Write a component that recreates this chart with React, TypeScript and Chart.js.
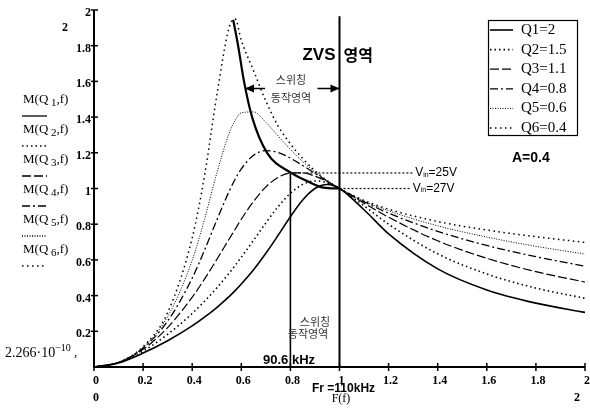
import React, { useEffect, useRef } from "react";
import { Chart, registerables } from "chart.js";

Chart.register(...registerables);

// normalized frequency f = F / Fr
const freq = [0, 0.1, 0.2, 0.3, 0.4, 0.45, 0.5, 0.55, 0.575, 0.6, 0.65, 0.7, 0.75, 0.8, 0.85, 0.9, 0.95, 1, 1.1, 1.2, 1.4, 1.6, 1.8, 2];

const gainQ1 = [0, 0.023, 0.078, 0.147, 0.23, 0.279, 0.333, 0.394, 0.428, 0.465, 0.545, 0.637, 0.738, 0.842, 0.936, 1.0, 1.022, 1, 0.881, 0.746, 0.55, 0.432, 0.358, 0.306];
const gainQ2 = [0, 0.024, 0.089, 0.183, 0.3, 0.368, 0.443, 0.525, 0.569, 0.615, 0.71, 0.807, 0.898, 0.973, 1.023, 1.042, 1.032, 1, 0.903, 0.8, 0.634, 0.521, 0.442, 0.385];
const gainQ3 = [0, 0.025, 0.099, 0.221, 0.391, 0.492, 0.602, 0.716, 0.772, 0.828, 0.928, 1.009, 1.062, 1.087, 1.088, 1.069, 1.038, 1, 0.918, 0.839, 0.707, 0.609, 0.534, 0.476];
const gainQ4 = [0, 0.025, 0.106, 0.257, 0.498, 0.654, 0.822, 0.983, 1.052, 1.11, 1.186, 1.212, 1.202, 1.17, 1.129, 1.085, 1.041, 1, 0.926, 0.862, 0.76, 0.681, 0.618, 0.565];
const gainQ5 = [0, 0.026, 0.11, 0.282, 0.598, 0.827, 1.085, 1.308, 1.382, 1.424, 1.429, 1.371, 1.294, 1.219, 1.151, 1.093, 1.043, 1, 0.93, 0.875, 0.791, 0.728, 0.676, 0.633];
const gainQ6 = [0, 0.026, 0.114, 0.305, 0.723, 1.07, 1.52, 1.9, 1.95, 1.83, 1.66, 1.49, 1.35, 1.25, 1.168, 1.099, 1.044, 1, 0.933, 0.884, 0.815, 0.767, 0.73, 0.698];

const seriesLabels = ["Q1=2", "Q2=1.5", "Q3=1.1", "Q4=0.8", "Q5=0.6", "Q6=0.4"];
const traceIndex = ["1", "2", "3", "4", "5", "6"];

// ZVS boundary (peak locus)
const boundaryF = [0.567, 0.587, 0.611, 0.644, 0.705, 0.8, 0.87, 0.934, 1.0];
const boundaryM = [1.945, 1.8, 1.6, 1.4, 1.2, 1.09, 1.04, 1.005, 1.0];

// reference lines
const resonantF = 1.0;
const resonantTop = 1.965;
const minF = 0.8;
const minTop = 1.09;
const vin25 = 1.087;
const vin27 = 1.0;
const vinLineStart = [0.8, 1.0];
const vinLineEnd = [1.3, 1.29];
const vinLabels = ["=25V", "=27V"];

const xTicks = [0, 0.2, 0.4, 0.6, 0.8, 1, 1.2, 1.4, 1.6, 1.8, 2];
const xTickLabels = ["0", "0.2", "0.4", "0.6", "0.8", "1", "1.2", "1.4", "1.6", "1.8", "2"];
const yTicks = [0.2, 0.4, 0.6, 0.8, 1, 1.2, 1.4, 1.6, 1.8, 2];
const yTickLabels = ["0.2", "0.4", "0.6", "0.8", "1", "1.2", "1.4", "1.6", "1.8", "2"];

const allGains = [gainQ1, gainQ2, gainQ3, gainQ4, gainQ5, gainQ6];
const styles = [
  { w: 1.6, dash: [] as number[] },
  { w: 1.6, dash: [1.5, 3] },
  { w: 1.2, dash: [9, 3] },
  { w: 1.3, dash: [8, 3, 2, 3] },
  { w: 1.0, dash: [1, 1.5] },
  { w: 1.5, dash: [1.5, 3.5] },
];

const SERIF = "'Liberation Serif', 'Times New Roman', serif";
const SANS = "'Liberation Sans', Arial, sans-serif";
const KR = "'Noto Sans CJK KR', sans-serif";

type Part = { t: string; font: string; dy?: number };
function drawParts(ctx: CanvasRenderingContext2D, parts: Part[], x: number, y: number) {
  let cx = x;
  for (const p of parts) {
    ctx.font = p.font;
    ctx.fillText(p.t, cx, y + (p.dy || 0));
    cx += ctx.measureText(p.t).width;
  }
}

const overlay = {
  id: "overlay",
  afterDraw(chart: any) {
    const ctx: CanvasRenderingContext2D = chart.ctx;
    const xs = chart.scales.x;
    const ys = chart.scales.y;
    const X = (v: number) => xs.getPixelForValue(v);
    const Y = (v: number) => ys.getPixelForValue(v);
    ctx.save();
    ctx.strokeStyle = "#000";
    ctx.fillStyle = "#000";
    ctx.setLineDash([]);

    // axes
    ctx.lineWidth = 2;
    ctx.beginPath();
    ctx.moveTo(X(0), Y(2));
    ctx.lineTo(X(0), Y(0));
    ctx.lineTo(X(2), Y(0));
    ctx.stroke();
    ctx.lineWidth = 1.5;
    yTicks.forEach((v) => {
      ctx.beginPath();
      ctx.moveTo(X(0) - 3, Y(v));
      ctx.lineTo(X(0) + 4, Y(v));
      ctx.stroke();
    });
    xTicks.forEach((v) => {
      ctx.beginPath();
      ctx.moveTo(X(v), Y(0) - 4);
      ctx.lineTo(X(v), Y(0) + 4);
      ctx.stroke();
    });

    // tick labels
    ctx.font = `bold 12px ${SERIF}`;
    ctx.textBaseline = "middle";
    ctx.textAlign = "right";
    yTicks.forEach((v, i) => ctx.fillText(yTickLabels[i], X(0) - 3, Y(v) + 3));
    ctx.textAlign = "center";
    xTicks.forEach((v, i) => ctx.fillText(xTickLabels[i], X(v) + 2, Y(0) + 14));
    ctx.fillText(xTickLabels[0], X(0) + 2, Y(0) + 31);
    ctx.fillText(xTickLabels[xTickLabels.length - 1], X(2) - 8, Y(0) + 31);
    ctx.fillText(yTickLabels[yTickLabels.length - 1], X(0) - 29, Y(2) + 18);

    // lower range label
    ctx.textAlign = "left";
    drawParts(ctx, [
      { t: "2.266·10", font: `14px ${SERIF}` },
      { t: "−10", font: `10px ${SERIF}`, dy: -5 },
      { t: " ,", font: `13px ${SERIF}` },
    ], 5, Y(0) - 14);

    // Mathcad trace names with line samples
    for (let i = 0; i < 6; i++) {
      const ly = 100 + i * 30;
      ctx.fillStyle = "#000";
      drawParts(ctx, [
        { t: "M(Q", font: `13px ${SERIF}` },
        { t: " " + traceIndex[i], font: `11px ${SERIF}`, dy: 3 },
        { t: ",f)", font: `13px ${SERIF}` },
      ], 23, ly);
      ctx.lineWidth = 1.3;
      ctx.setLineDash(styles[i].dash);
      ctx.beginPath();
      ctx.moveTo(22, ly + 16);
      ctx.lineTo(47, ly + 16);
      ctx.stroke();
      ctx.setLineDash([]);
    }

    // legend box
    ctx.lineWidth = 1.2;
    ctx.strokeRect(488.5, 20.5, 89, 115);
    ctx.textBaseline = "middle";
    ctx.textAlign = "left";
    ctx.font = `15px ${SERIF}`;
    for (let i = 0; i < 6; i++) {
      const ly = 30 + i * 19.6;
      ctx.lineWidth = styles[i].w;
      ctx.setLineDash(styles[i].dash);
      ctx.beginPath();
      ctx.moveTo(490, ly);
      ctx.lineTo(513, ly);
      ctx.stroke();
      ctx.setLineDash([]);
      ctx.fillText(seriesLabels[i], 521, ly);
    }

    // ZVS region label
    ctx.font = `bold 17px ${SANS}`;
    ctx.textAlign = "right";
    ctx.fillText("ZVS", X(resonantF) - 4, 55);
    ctx.textAlign = "left";
    ctx.font = `bold 16px ${KR}`;
    ctx.fillText("영역", X(resonantF) + 4, 55);

    // arrow between boundary and resonance
    const ay = Y(1.56);
    const ax0 = X(0.615);
    const ax1 = X(resonantF);
    ctx.lineWidth = 1.5;
    ctx.beginPath();
    ctx.moveTo(ax0, ay);
    ctx.lineTo(ax0 + 20, ay);
    ctx.moveTo(ax1 - 22, ay);
    ctx.lineTo(ax1, ay);
    ctx.stroke();
    ctx.beginPath();
    ctx.moveTo(ax0, ay);
    ctx.lineTo(ax0 + 9, ay - 4);
    ctx.lineTo(ax0 + 9, ay + 4);
    ctx.closePath();
    ctx.fill();
    ctx.beginPath();
    ctx.moveTo(ax1, ay);
    ctx.lineTo(ax1 - 9, ay - 4);
    ctx.lineTo(ax1 - 9, ay + 4);
    ctx.closePath();
    ctx.fill();

    ctx.fillStyle = "#333";
    ctx.font = `11px ${KR}`;
    ctx.textAlign = "center";
    ctx.fillText("스위칭", 291, ay - 9);
    ctx.fillText("동작영역", 291, ay + 9);
    ctx.fillText("스위칭", 315, 322);
    ctx.fillText("동작영역", 308, 334);

    ctx.fillStyle = "#000";
    ctx.font = `bold 13px ${SANS}`;
    ctx.textAlign = "left";
    ctx.fillText("90.6 kHz", 263, 360);
    ctx.font = `bold 12px ${SANS}`;
    ctx.fillText("Fr =110kHz", 312, 389);
    ctx.font = `12px ${SERIF}`;
    ctx.textAlign = "center";
    ctx.fillText("F(f)", 341, 399);

    // Vin labels
    ctx.textAlign = "left";
    [vin25, vin27].forEach((v, i) => {
      drawParts(ctx, [
        { t: "V", font: `12px ${SANS}` },
        { t: "in", font: `7px ${SANS}`, dy: 2 },
        { t: vinLabels[i], font: `12px ${SANS}` },
      ], X(vinLineEnd[i]) + 2, Y(v));
    });

    ctx.font = `bold 14px ${SANS}`;
    ctx.fillText("A=0.4", 512, 158);
    ctx.restore();
  },
};

export default function App() {
  const ref = useRef<HTMLCanvasElement | null>(null);
  useEffect(() => {
    if (!ref.current) return;
    const gainSets = allGains.map((g, i) => ({
      label: seriesLabels[i],
      data: freq.map((f, k) => ({ x: f, y: g[k] })),
      borderColor: "#000",
      borderWidth: styles[i].w,
      borderDash: styles[i].dash,
      pointRadius: 0,
      fill: false,
      cubicInterpolationMode: "monotone" as const,
    }));
    const extra = [
      {
        label: "boundary",
        data: boundaryF.map((f, k) => ({ x: f, y: boundaryM[k] })),
        borderColor: "#000",
        borderWidth: 2.2,
        borderDash: [] as number[],
        pointRadius: 0,
        fill: false,
        cubicInterpolationMode: "monotone" as const,
      },
      {
        label: "resonance",
        data: [{ x: resonantF, y: 0 }, { x: resonantF, y: resonantTop }],
        borderColor: "#000",
        borderWidth: 2,
        borderDash: [] as number[],
        pointRadius: 0,
        fill: false,
      },
      {
        label: "min",
        data: [{ x: minF, y: 0 }, { x: minF, y: minTop }],
        borderColor: "#000",
        borderWidth: 1.6,
        borderDash: [] as number[],
        pointRadius: 0,
        fill: false,
      },
      {
        label: "vin25",
        data: [{ x: vinLineStart[0], y: vin25 }, { x: vinLineEnd[0], y: vin25 }],
        borderColor: "#000",
        borderWidth: 1.2,
        borderDash: [2, 2],
        pointRadius: 0,
        fill: false,
      },
      {
        label: "vin27",
        data: [{ x: vinLineStart[1], y: vin27 }, { x: vinLineEnd[1], y: vin27 }],
        borderColor: "#000",
        borderWidth: 1.2,
        borderDash: [2, 2],
        pointRadius: 0,
        fill: false,
      },
    ];
    const chart = new Chart(ref.current, {
      type: "line",
      data: { datasets: [...gainSets, ...extra] as any },
      options: {
        responsive: false,
        animation: false,
        devicePixelRatio: 1,
        layout: { padding: { left: 94, right: 5, top: 10, bottom: 41 } },
        scales: {
          x: { type: "linear", min: 0, max: 2, display: false },
          y: { type: "linear", min: 0, max: 2, display: false },
        },
        plugins: { legend: { display: false }, tooltip: { enabled: false } },
      },
      plugins: [overlay],
    });
    return () => chart.destroy();
  }, []);
  return (
    <div style={{ position: "absolute", left: 0, top: 0, width: 590, height: 408, background: "#fff" }}>
      <canvas ref={ref} width={590} height={408} style={{ width: 590, height: 408, display: "block" }} />
    </div>
  );
}
